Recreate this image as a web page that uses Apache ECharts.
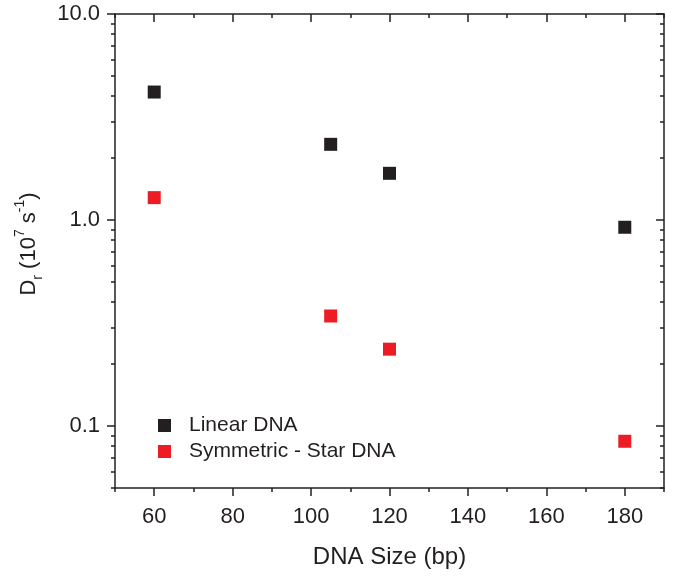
<!DOCTYPE html>
<html>
<head>
<meta charset="utf-8">
<script src="https://cdn.jsdelivr.net/npm/echarts@6/dist/echarts.min.js"></script>
<style>html,body{margin:0;padding:0;background:#fff}#c{width:682px;height:576px}</style>
</head>
<body>
<div id="c"></div>
<script>
const dnaSize = [60, 105, 120, 180];
const linearDNA = [4.18, 2.33, 1.685, 0.922];
const starDNA = [1.284, 0.342, 0.236, 0.0843];
const xMajorTicks = [60, 80, 100, 120, 140, 160, 180];
const xMinorTicks = [50, 70, 90, 110, 130, 150, 170, 190];
const yMajorTicks = [0.1, 1, 10];
const yMinorTicks = [0.05, 0.06, 0.07, 0.08, 0.09, 0.2, 0.3, 0.4, 0.5, 0.6, 0.7, 0.8, 0.9, 2, 3, 4, 5, 6, 7, 8, 9];

const ink = '#231f20';
const red = '#ed1c24';
const font = '"Liberation Sans", Arial, sans-serif';
const lineW = 1.5;

function xAx(pos, ticks, len, inside, opts) {
  return Object.assign({
    type: 'value', position: pos, min: 50, max: 190, interval: 10,
    splitLine: {show: false},
    axisLine: {show: false},
    axisTick: {show: true, customValues: ticks, length: len, inside: inside, lineStyle: {color: ink, width: lineW}},
    axisLabel: {show: false}
  }, opts || {});
}
function yAx(pos, ticks, len, inside, opts) {
  return Object.assign({
    type: 'log', logBase: 10, position: pos, min: 0.05, max: 10,
    splitLine: {show: false},
    axisLine: {show: false},
    axisTick: {show: true, customValues: ticks, length: len, inside: inside, lineStyle: {color: ink, width: lineW}},
    axisLabel: {show: false}
  }, opts || {});
}

const chart = echarts.init(document.getElementById('c'));
chart.setOption({
  animation: false,
  backgroundColor: '#fff',
  grid: {left: 115, right: 18, top: 14, bottom: 88, containLabel: false},
  legend: {
    orient: 'vertical', left: 153, top: 410,
    itemWidth: 13, itemHeight: 13, itemGap: 5,
    textStyle: {fontFamily: font, fontSize: 21, color: ink, padding: [0, 0, 0, 13]},
    data: ['Linear DNA', 'Symmetric - Star DNA']
  },
  xAxis: [
    xAx('bottom', xMajorTicks, 8, false, {
      axisLine: {show: true, onZero: false, lineStyle: {color: ink, width: lineW}},
      axisLabel: {show: true, customValues: xMajorTicks, fontFamily: font, fontSize: 22, color: ink, margin: 18},
      name: 'DNA Size (bp)', nameLocation: 'middle', nameGap: 57,
      nameTextStyle: {fontFamily: font, fontSize: 24, color: ink}
    }),
    xAx('bottom', xMinorTicks, 4, false),
    xAx('top', xMajorTicks, 8, true, {
      axisLine: {show: true, onZero: false, lineStyle: {color: ink, width: lineW}}
    }),
    xAx('top', xMinorTicks, 4, true)
  ],
  yAxis: [
    yAx('left', yMajorTicks, 8, false, {
      axisLine: {show: true, onZero: false, lineStyle: {color: ink, width: lineW}},
      axisLabel: {show: true, customValues: yMajorTicks, fontFamily: font, fontSize: 22, color: ink, margin: 15,
        formatter: v => v >= 1 ? Number(v).toFixed(1) : String(v)},
      name: '{b|D}{sub|r}{b| (10}{sup|7}{b| s}{sup|-1}{b|)}', nameLocation: 'middle', nameGap: 70, nameRotate: 90,
      nameTextStyle: {
        fontFamily: font, fontSize: 22, color: ink, padding: [0, 0, 0, 14],
        rich: {
          b: {fontFamily: font, fontSize: 22, color: ink, lineHeight: 32, verticalAlign: 'middle'},
          sub: {fontFamily: font, fontSize: 14, color: ink, lineHeight: 14, verticalAlign: 'bottom'},
          sup: {fontFamily: font, fontSize: 14, color: ink, lineHeight: 15, verticalAlign: 'top'}
        }
      }
    }),
    yAx('left', yMinorTicks, 4, false),
    yAx('right', yMajorTicks, 8, true, {
      axisLine: {show: true, onZero: false, lineStyle: {color: ink, width: lineW}}
    }),
    yAx('right', yMinorTicks, 4, true)
  ],
  series: [
    {
      name: 'Linear DNA', type: 'scatter', xAxisIndex: 0, yAxisIndex: 0,
      symbol: 'rect', symbolSize: 13, itemStyle: {color: ink, opacity: 1},
      data: dnaSize.map((x, i) => [x, linearDNA[i]])
    },
    {
      name: 'Symmetric - Star DNA', type: 'scatter', xAxisIndex: 0, yAxisIndex: 0,
      symbol: 'rect', symbolSize: 13, itemStyle: {color: red, opacity: 1},
      data: dnaSize.map((x, i) => [x, starDNA[i]])
    }
  ]
});
</script>
</body>
</html>
